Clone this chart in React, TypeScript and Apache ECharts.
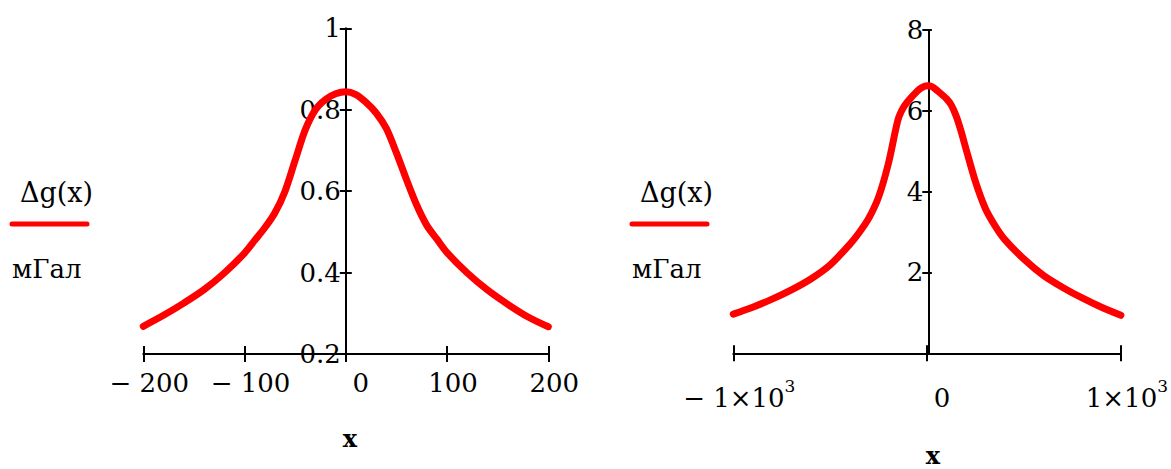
import React, { useEffect, useRef } from "react";
import * as echarts from "echarts";

// Δg(x) profile, narrow window (x in m, Δg in мГал)
const leftX = [-200, -180, -160, -140, -120, -100, -90, -80, -70, -60, -50, -40, -30, -20, -10, 0, 10, 20, 30, 40, 50, 60, 70, 80, 90, 100, 120, 140, 160, 180, 200];
const leftG = [0.268, 0.295, 0.325, 0.358, 0.399, 0.448, 0.479, 0.510, 0.547, 0.600, 0.676, 0.751, 0.800, 0.825, 0.839, 0.844, 0.837, 0.818, 0.792, 0.754, 0.694, 0.628, 0.566, 0.516, 0.482, 0.449, 0.399, 0.357, 0.322, 0.291, 0.267];

// Δg(x) profile, wide window
const rightX = [-1000, -900, -800, -700, -600, -500, -400, -350, -300, -250, -200, -150, -125, -100, -50, -25, 0, 25, 50, 100, 125, 150, 175, 200, 250, 300, 350, 400, 500, 600, 700, 800, 900, 1000];
const rightG = [0.97, 1.14, 1.34, 1.57, 1.84, 2.19, 2.69, 2.99, 3.35, 3.87, 4.69, 5.78, 6.06, 6.23, 6.49, 6.58, 6.62, 6.60, 6.51, 6.30, 6.14, 5.87, 5.50, 5.07, 4.24, 3.59, 3.16, 2.82, 2.33, 1.93, 1.63, 1.37, 1.14, 0.94];

// axis ranges and tick steps
const leftXRange = [-200, 200, 100];
const leftYRange = [0.2, 1, 0.2];
const rightXRange = [-1000, 1000, 1000];
const rightYRange = [0, 8, 2];

const legendName = "Δg(x)";
const unitName = "мГал";
const xName = "x";

const SERIF = "DejaVu Serif";
const BLACK = "#000000";
const RED = "#ff0000";
const W = 1171;
const H = 469;

// plot rectangles in page pixels
const leftRect = { x0: 143.3, x1: 548.3, y0: 28.3, y1: 354 };
const rightRect = { x0: 733.3, x1: 1123.3, y0: 30, y1: 353.3 };

const tickStyle = { color: BLACK, width: 2 };

function gridOf(r: { x0: number; x1: number; y0: number; y1: number }) {
  return { left: r.x0, right: W - r.x1, top: r.y0, bottom: H - r.y1, containLabel: false };
}

function xAxesFor(gridIndex: number, range: number[], r: any, label: any) {
  const base = {
    type: "value",
    gridIndex,
    min: range[0],
    max: range[1],
    interval: range[2],
    splitLine: { show: false },
  };
  const h = r.y1 - r.y0;
  return [
    {
      ...base,
      position: "bottom",
      axisLine: { show: true, onZero: false, lineStyle: { color: BLACK, width: 2 } },
      axisTick: { show: true, length: 8, lineStyle: tickStyle },
      axisLabel: label,
    },
    {
      ...base,
      position: "top",
      offset: -h,
      axisLine: { show: false, onZero: false },
      axisTick: { show: true, length: 8, lineStyle: tickStyle },
      axisLabel: { show: false },
    },
  ];
}

function yAxesFor(gridIndex: number, range: number[], r: any, label: any) {
  const base = {
    type: "value",
    gridIndex,
    min: range[0],
    max: range[1],
    interval: range[2],
    splitLine: { show: false },
  };
  const half = (r.x1 - r.x0) / 2;
  return [
    {
      ...base,
      position: "left",
      offset: -half,
      axisLine: { show: true, onZero: false, lineStyle: { color: BLACK, width: 2 } },
      axisTick: { show: true, length: 6, lineStyle: tickStyle },
      axisLabel: label,
    },
    {
      ...base,
      position: "right",
      offset: -half,
      axisLine: { show: false, onZero: false },
      axisTick: { show: true, length: 6, lineStyle: tickStyle },
      axisLabel: { show: false },
    },
  ];
}

const numText = { fontFamily: SERIF, fontSize: 26, color: BLACK };

function legendBlock(x: number) {
  return [
    {
      type: "text",
      left: x + 8,
      top: 179,
      style: { text: legendName, fontFamily: SERIF, fontSize: 27, fill: BLACK },
    },
    {
      type: "line",
      shape: { x1: x, y1: 224, x2: x + 75, y2: 224 },
      style: { stroke: RED, lineWidth: 5, lineCap: "round" },
    },
    {
      type: "text",
      left: x,
      top: 256,
      style: { text: unitName, fontFamily: SERIF, fontSize: 26, fill: BLACK },
    },
  ];
}

export default function App() {
  const ref = useRef<HTMLDivElement>(null);

  useEffect(() => {
    if (!ref.current) return;
    const chart = echarts.init(ref.current, null, { renderer: "svg" });

    const leftXLabel = {
      show: true,
      margin: 14,
      padding: [0, 0, 0, 12],
      formatter: (v: number) => (v === 0 ? "{z|0}" : `{n|${v < 0 ? "− " + -v : v}}`),
      rich: {
        n: { ...numText, lineHeight: 30 },
        z: { ...numText, lineHeight: 30, padding: [0, 0, 0, 18] },
      },
    };

    const rightXLabel = {
      show: true,
      margin: 24,
      padding: [0, 0, 0, 12],
      formatter: (v: number) => {
        if (v === 0) return "{z|0}";
        const mant = Math.abs(v) / 1000;
        return `{n|${v < 0 ? "− " : ""}${mant}×10}{s|3}`;
      },
      rich: {
        n: { ...numText, lineHeight: 30, padding: [12, 0, 0, 0] },
        z: { ...numText, lineHeight: 30, padding: [12, 0, 0, 18] },
        s: { ...numText, fontSize: 17, lineHeight: 18, verticalAlign: "top" },
      },
    };

    const leftYLabel = {
      show: true,
      margin: 5,
      padding: [8, 0, 0, 0],
      ...numText,
      formatter: (v: number) => String(+v.toFixed(1)),
    };

    const rightYLabel = {
      show: true,
      margin: 5,
      padding: [6, 0, 0, 0],
      ...numText,
      formatter: (v: number) => (v === 0 ? "" : String(v)),
    };

    const lineSeries = (xs: number[], ys: number[], axisIndex: number) => ({
      type: "line",
      xAxisIndex: axisIndex,
      yAxisIndex: axisIndex,
      data: xs.map((x, i) => [x, ys[i]]),
      showSymbol: false,
      smooth: 0.3,
      lineStyle: { color: RED, width: 7, cap: "round", join: "round" },
      itemStyle: { color: RED },
      z: 5,
    });

    const axisTitle = (x: number, y: number) => ({
      type: "text",
      x,
      y,
      style: {
        text: xName,
        fontFamily: SERIF,
        fontSize: 24,
        fontWeight: "bold",
        fill: BLACK,
        align: "center",
        verticalAlign: "middle",
      },
    });

    chart.setOption({
      animation: false,
      backgroundColor: "#ffffff",
      grid: [gridOf(leftRect), gridOf(rightRect)],
      xAxis: [
        ...xAxesFor(0, leftXRange, leftRect, leftXLabel),
        ...xAxesFor(1, rightXRange, rightRect, rightXLabel),
      ],
      yAxis: [
        ...yAxesFor(0, leftYRange, leftRect, leftYLabel),
        ...yAxesFor(1, rightYRange, rightRect, rightYLabel),
      ],
      series: [lineSeries(leftX, leftG, 0), lineSeries(rightX, rightG, 2)],
      graphic: [...legendBlock(12), ...legendBlock(632), axisTitle(350, 438), axisTitle(933, 455)],
    });

    return () => chart.dispose();
  }, []);

  return (
    <div
      ref={ref}
      style={{ position: "fixed", left: 0, top: 0, width: W, height: H, background: "#fff" }}
    />
  );
}
